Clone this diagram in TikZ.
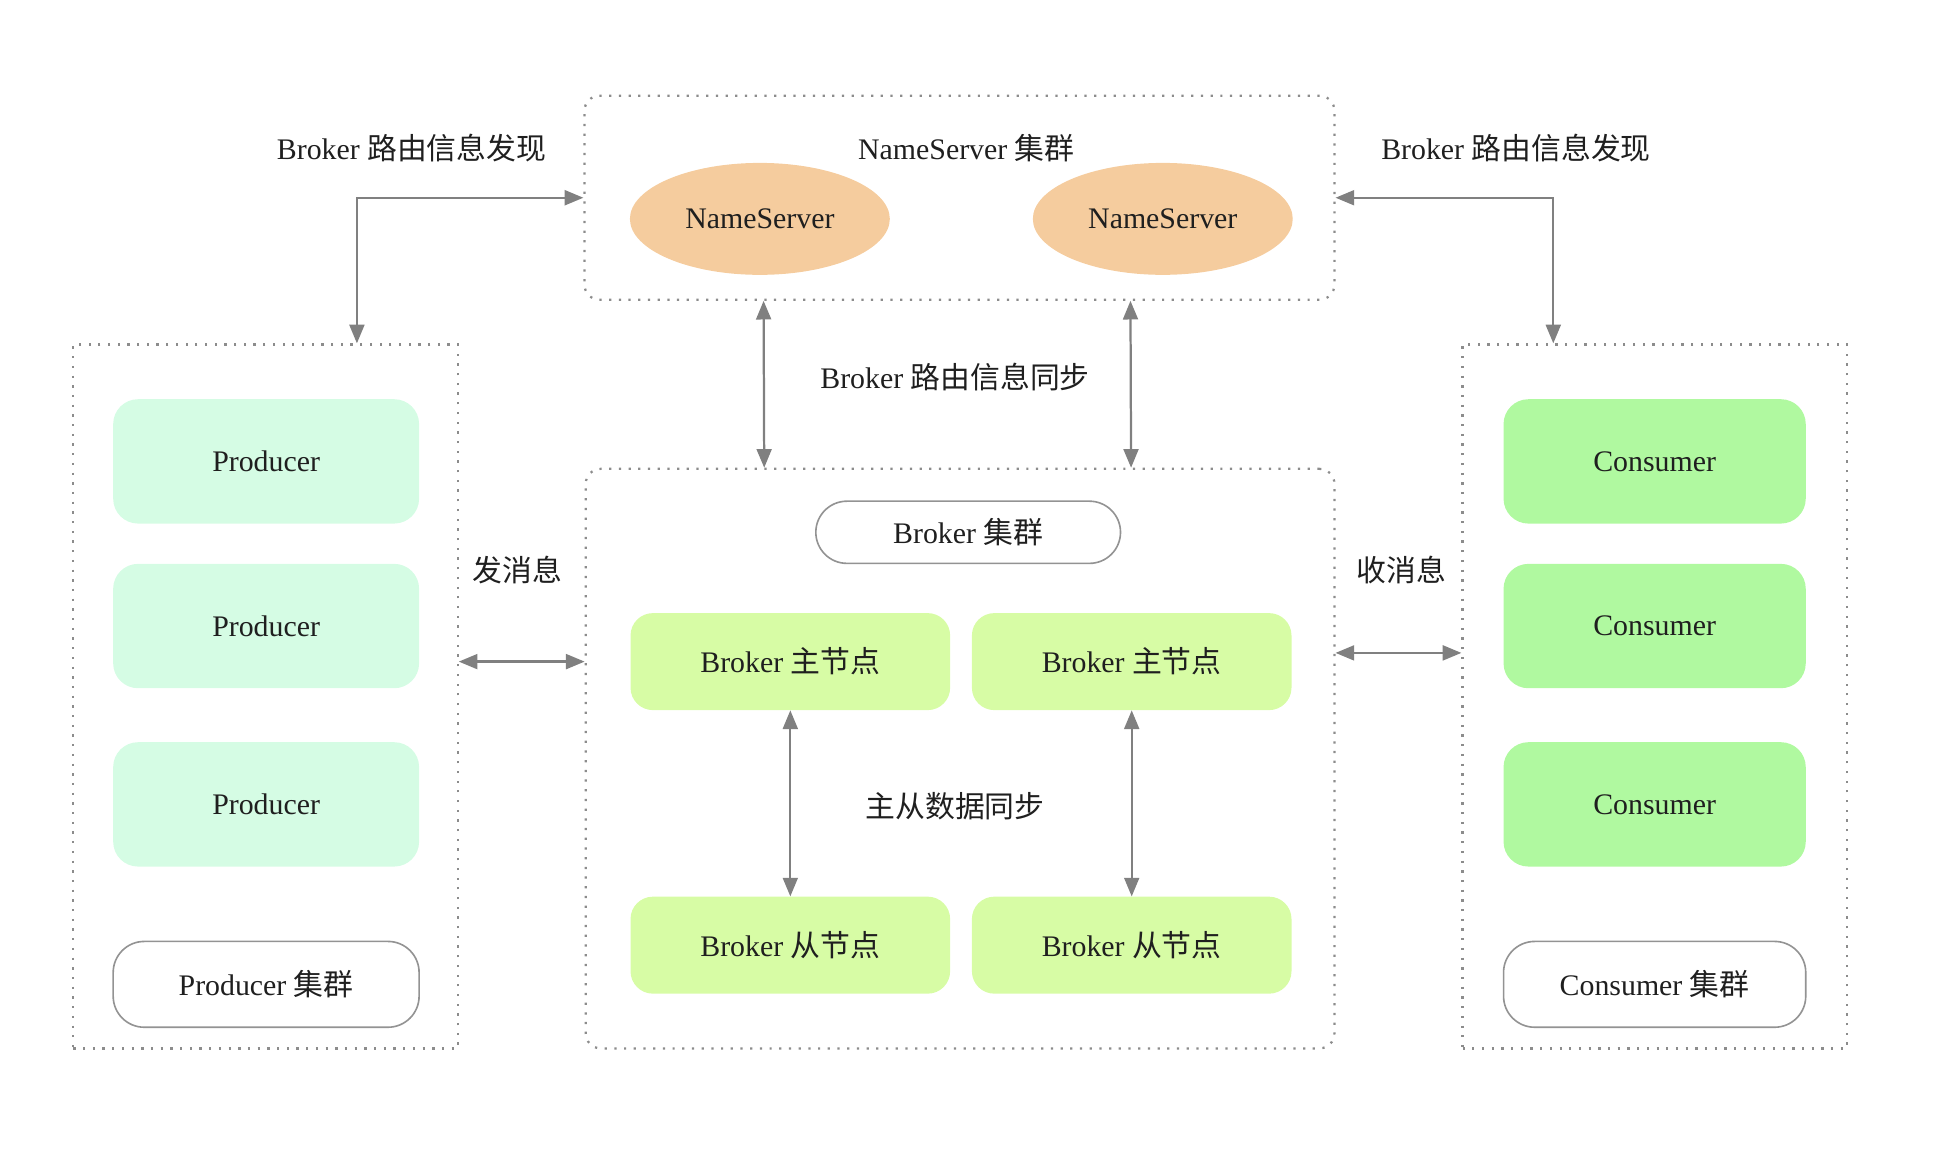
\documentclass[tikz,border=0pt]{standalone}
\usepackage{fontspec}
\setmainfont{Liberation Serif}
\newfontfamily\cjk{Noto Sans CJK SC}
\usepackage{tikz}
\usetikzlibrary{positioning,arrows.meta,shapes.geometric}

\definecolor{nsfill}{HTML}{F5CC9E}
\definecolor{prodfill}{HTML}{D5FCE4}
\definecolor{consfill}{HTML}{B0F9A0}
\definecolor{brokfill}{HTML}{D7FCA5}
\newcommand{\zh}[1]{{\cjk #1}}

\begin{document}
\begin{tikzpicture}[
  x=1pt, y=-1pt,
  font=\fontsize{24}{28}\selectfont,
  every node/.style={text=black!88, inner sep=0pt},
  cluster/.style={rectangle, draw=gray!90, line width=1.8pt, dash pattern=on 1.8pt off 6pt},
  nameserver/.style={ellipse, fill=nsfill, minimum width=209pt, minimum height=90pt},
  prodbox/.style={rectangle, fill=prodfill, rounded corners=20pt, minimum width=246pt, minimum height=100pt},
  consbox/.style={rectangle, fill=consfill, rounded corners=20pt, minimum width=243pt, minimum height=100pt},
  brokbox/.style={rectangle, fill=brokfill, rounded corners=18pt, minimum width=257pt, minimum height=78pt},
  tag/.style={rectangle, draw=gray!85, line width=1.3pt, fill=white, rounded corners=25pt, minimum height=69pt},
  biarrow/.style={{Triangle[length=15pt,width=12pt]}-{Triangle[length=15pt,width=12pt]}, draw=gray, line width=1.8pt}
]
\useasboundingbox (0,0) rectangle (1568,934);

% NameServer cluster
\node[cluster, rounded corners=12pt, minimum width=603pt, minimum height=164pt] (nscl) at (771.5,159) {};
\node (nstitle) at (777,119) {NameServer \zh{集群}};
\node[nameserver] (ns1) at (611,176) {NameServer};
\node[nameserver] (ns2) at (935,176) {NameServer};

% Producer cluster
\node[cluster, minimum width=309pt, minimum height=566pt] (pcl) at (213.5,560) {};
\node[prodbox] (p1) at (214,371) {Producer};
\node[prodbox, below=32pt of p1] (p2) {Producer};
\node[prodbox, below=43pt of p2] (p3) {Producer};
\node[tag, minimum width=246pt] (ptag) at (214,791.5) {Producer \zh{集群}};

% Consumer cluster
\node[cluster, minimum width=309pt, minimum height=566pt] (ccl) at (1330.5,560) {};
\node[consbox] (c1) at (1330.5,371) {Consumer};
\node[consbox, below=32pt of c1] (c2) {Consumer};
\node[consbox, below=43pt of c2] (c3) {Consumer};
\node[tag, minimum width=243pt] (ctag) at (1330.5,791.5) {Consumer \zh{集群}};

% Broker cluster
\node[cluster, rounded corners=12pt, minimum width=602pt, minimum height=466pt] (bcl) at (772,610) {};
\node[tag, minimum width=245pt, minimum height=50pt] (btag) at (778.5,428) {Broker \zh{集群}};
\node[brokbox] (m1) at (635.5,532) {Broker \zh{主节点}};
\node[brokbox] (m2) at (910,532) {Broker \zh{主节点}};
\node[brokbox] (s1) at (635.5,760) {Broker \zh{从节点}};
\node[brokbox] (s2) at (910,760) {Broker \zh{从节点}};

% labels
\node (ldisc) at (331,119) {Broker \zh{路由信息发现}};
\node (rdisc) at (1219,119) {Broker \zh{路由信息发现}};
\node (sync) at (768,303) {Broker \zh{路由信息同步}};
\node (msync) at (768,648) {\zh{主从数据同步}};
\node (send) at (416,458) {\zh{发消息}};
\node (recv) at (1127,458) {\zh{收消息}};

% connectors
\draw[biarrow] ([xshift=73.5pt]pcl.north) |- (nscl.west);
\draw[biarrow] ([xshift=-81.5pt]ccl.north) |- (nscl.east);
\draw[biarrow] ([xshift=-157.5pt]nscl.south) -- ([xshift=-157.5pt]bcl.north);
\draw[biarrow] ([xshift=137.5pt]nscl.south) -- ([xshift=137.5pt]bcl.north);
\draw[biarrow] (m1) -- (s1);
\draw[biarrow] (m2) -- (s2);
\draw[biarrow] (pcl.east |- m1) -- (bcl.west |- m1);
\draw[biarrow] ([yshift=7pt]bcl.east |- m2) -- ([yshift=7pt]ccl.west |- m2);
\end{tikzpicture}
\end{document}
